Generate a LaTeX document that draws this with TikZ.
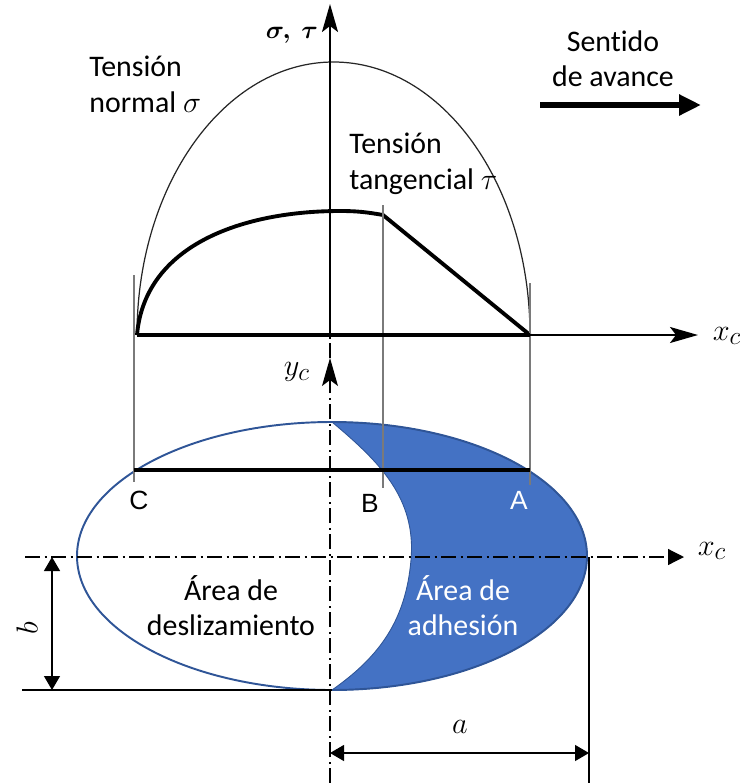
\documentclass[tikz,border=0pt]{standalone}
\usepackage{amsmath}
\usepackage{fontspec}
\setmainfont{Carlito}[Ligatures=CommonOff]
\newfontfamily\labelfont{Liberation Sans}
\usetikzlibrary{arrows.meta,positioning,calc}
\definecolor{adhblue}{HTML}{4472C4}
\definecolor{rimblue}{HTML}{2F5597}
\definecolor{guidegray}{HTML}{7A7A7A}

\begin{document}
\begin{tikzpicture}[x=0.2mm, y=0.2mm,
    thinline/.style={line width=0.7pt},
    thickline/.style={line width=2.2pt},
    guide/.style={guidegray, line width=0.9pt},
    dashdot/.style={line width=0.7pt, dash pattern=on 3mm off 0.9mm on 0.4mm off 0.9mm},
    axisarrow/.style={-{Stealth[length=5.6mm,width=3.2mm,inset=1.2mm]}},
    dimarrow/.style={{Triangle[length=2.8mm,width=3.2mm]}-{Triangle[length=2.8mm,width=3.2mm]}},
    txt/.style={font=\fontsize{17}{20}\selectfont, inner sep=0pt},
    mathlbl/.style={font=\fontsize{19}{22}\selectfont, inner sep=0pt},
    ptlabel/.style={font=\labelfont\fontsize{15}{18}\selectfont, inner sep=0pt}]
    \useasboundingbox (0,0) rectangle (740,-783);

    % puntos
    \coordinate (o) at (330,-335);
    \coordinate (sigtop) at (330,-4);
    \coordinate (tC) at (137,-335);
    \coordinate (tA) at (530,-335);
    \coordinate (xtip) at (698,-335);
    \coordinate (cC) at (134,-470);
    \coordinate (cB) at (383,-470);
    \coordinate (cA) at (530,-470);
    \coordinate (etop) at (332,-422);
    \coordinate (ebot) at (332,-690);
    \coordinate (emid) at (411,-560);

    % area de adhesion
    \fill[adhblue, draw=rimblue, line width=0.5pt] (etop)
      arc[start angle=90, end angle=-90, x radius=255, y radius=134]
      to[out=35,in=-95] (emid) to[out=85,in=-40] (etop) -- cycle;
    \draw[rimblue, line width=1.1pt] (332,-556) ellipse[x radius=255, y radius=134];

    % tensiones
    \draw[thinline, black!85] (tC) arc[start angle=180, end angle=0, x radius=196.5, y radius=273];
    \draw[thickline, line join=round] (tC) to[out=85,in=180] (340,-211)
      to[out=0,in=170] (383,-215) -- (tA);

    % lineas de referencia
    \foreach \x/\ya/\yb in {134/275/482, 383/205/488, 530/283/485}
      \draw[guide] (\x,-\ya) -- (\x,-\yb);

    % ejes
    \draw[thickline] (tC) -- (tA);
    \draw[line width=1.1pt, axisarrow] (tA) -- (xtip);
    \draw[line width=1.1pt, axisarrow] (o) -- (sigtop);
    \draw[dashdot, axisarrow] (330,-783) coordinate (ybot) -- (330,-358) coordinate (yarr);
    \draw[dashdot] (yarr) -- (o);
    \draw[thickline] (cC) -- (cA);
    \draw[dashdot, -{Triangle[length=3.2mm,width=3.2mm]}] (25,-557) coordinate (xl) -- (684,-557) coordinate (xr);

    % cotas
    \coordinate (bl) at (22,-690);
    \draw[thinline] (bl) -- (ebot);
    \draw[thinline, dimarrow] (52,-557) -- (52,-690);
    \draw[thinline] (589,-557) -- (589,-783);
    \draw[thinline, dimarrow] (330,-753) -- (589,-753);

    % sentido de avance
    \draw[line width=3.2pt, -{Triangle[length=4.4mm,width=4mm]}] (540,-105) coordinate (av0) -- (701,-105) coordinate (av1);

    % textos
    \node[font=\fontsize{15}{17}\selectfont] (ejesig) at (292,-35) {$\boldsymbol{\sigma,\ \tau}$};
    \node[txt, anchor=north west, align=left] (sigtxt) at (89,-56) {Tensión\\normal $\sigma$};
    \node[txt, anchor=north west, align=left] (tautxt) at (349,-133) {Tensión\\tangencial $\tau$};
    \node[txt, anchor=north, align=center] (avance) at (613,-30) {Sentido\\de avance};
    \node[mathlbl] (xc1) at (727,-336) {$x_c$};
    \node[mathlbl] (xc2) at (712,-551) {$x_c$};
    \node[mathlbl] (yc) at (297,-372) {$y_c$};
    \node[ptlabel] (lC) at (139,-500) {C};
    \node[ptlabel] (lB) at (370,-503) {B};
    \node[ptlabel, white] (lA) at (519,-500) {A};
    \node[txt, align=center] (desl) at (231,-606) {Área de\\deslizamiento};
    \node[txt, align=center, white] (adh) at (463,-606) {Área de\\adhesión};
    \node[mathlbl, rotate=90] (lb) at (27,-628) {$b$};
    \node[mathlbl] (la) at (460,-727) {$a$};
  \end{tikzpicture}
\end{document}
